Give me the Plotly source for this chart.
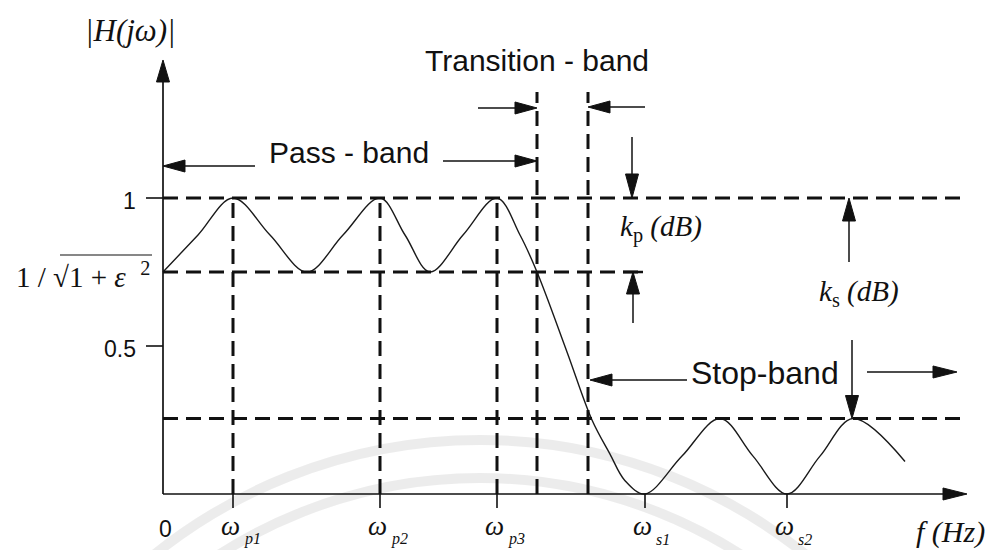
import plotly.graph_objects as go

# ---------------------------------------------------------------- data
# Characteristic frequencies on the f axis (arbitrary frequency units)
PASS_EDGES = [0.70, 2.17, 3.34]
PASS_EDGE_SUBS = ["p1", "p2", "p3"]
STOP_EDGES = [4.82, 6.24]
STOP_EDGE_SUBS = ["s1", "s2"]
TRANSITION_EDGES = [3.74, 4.25]

# Magnitude levels
PASS_MAX = 1.0
RIPPLE_MIN = 0.75          # 1 / sqrt(1 + eps^2)
STOP_MAX = 0.255
Y_TICKS = [1.0, 0.5]
Y_TICK_TEXT = ["1", "0.5"]

# |H(jw)| of the equiripple (elliptic) low-pass response:
# ripple extremes, mid-swing points and the roll-off
RESP_F = [0.00, 0.35, 0.70, 1.07, 1.44, 1.80, 2.17, 2.42, 2.67, 3.00, 3.34,
          3.57, 3.74, 4.04, 4.29, 4.47, 4.62, 4.82, 5.19, 5.57, 5.90, 6.24,
          6.57, 6.90, 7.42]
RESP_H = [0.75, 0.875, 1.00, 0.875, 0.75, 0.875, 1.00, 0.875, 0.75, 0.875, 1.00,
          0.875, 0.75, 0.48, 0.25, 0.135, 0.045, 0.00, 0.128, 0.255, 0.128, 0.00,
          0.128, 0.255, 0.11]

# ---------------------------------------------------------------- geometry
W, H = 993, 550
X0_PX, PX_PER_F = 163, 100.0     # screen position of f = 0 and scale
Y0_PX, PX_PER_H = 494, 296.0     # screen position of |H| = 0 and scale

F_RANGE = [(0 - X0_PX) / PX_PER_F, (W - X0_PX) / PX_PER_F]
H_RANGE = [(Y0_PX - H) / PX_PER_H, Y0_PX / PX_PER_H]


def fx(px):
    return (px - X0_PX) / PX_PER_F


def hy(py):
    return (Y0_PX - py) / PX_PER_H


def to_px(f):
    return X0_PX + f * PX_PER_F


def to_py(h):
    return Y0_PX - h * PX_PER_H


def pxp(x):
    return x / W


def pyp(y):
    return 1 - y / H


INK = "#111111"
SANS = "Liberation Sans, Arial, sans-serif"
SERIF = "Liberation Serif, Times New Roman, serif"
DASH = "15px,8px"

shapes = []
annotations = []


def seg(x0, y0, x1, y1, width=1.6, color=INK, dash=None):
    """Solid or dashed segment in screen pixels."""
    line = dict(color=color, width=width)
    if dash:
        line["dash"] = dash
    shapes.append(dict(type="line", xref="paper", yref="paper",
                       x0=pxp(x0), y0=pyp(y0), x1=pxp(x1), y1=pyp(y1),
                       line=line, layer="above"))


def arrow(x0, y0, x1, y1, head=21, half=6.0, width=1.5):
    """Shaft from (x0,y0) with a filled head whose tip is at (x1,y1)."""
    dx, dy = x1 - x0, y1 - y0
    n = (dx * dx + dy * dy) ** 0.5
    ux, uy = dx / n, dy / n
    bx, by = x1 - ux * head, y1 - uy * head
    seg(x0, y0, bx + ux * 2, by + uy * 2, width=width)
    nx, ny = -uy * half, ux * half
    path = "M {:.5f},{:.5f} L {:.5f},{:.5f} L {:.5f},{:.5f} Z".format(
        pxp(x1), pyp(y1), pxp(bx + nx), pyp(by + ny), pxp(bx - nx), pyp(by - ny))
    shapes.append(dict(type="path", xref="paper", yref="paper", path=path,
                       fillcolor=INK, line=dict(color=INK, width=1),
                       layer="above"))


def text(x, y, s, size, family=SANS, xanchor="center", yanchor="middle",
         color=INK, style="normal"):
    annotations.append(go.layout.Annotation(
        x=pxp(x), y=pyp(y), xref="paper", yref="paper",
        text=s, showarrow=False, xanchor=xanchor, yanchor=yanchor,
        font=dict(family=family, size=size, color=color, style=style)))


def dline(f0, h0, f1, h1):
    """Heavy dashed guide line in data coordinates."""
    shapes.append(dict(type="line", xref="x", yref="y", x0=f0, y0=h0,
                       x1=f1, y1=h1, layer="above",
                       line=dict(color=INK, width=3, dash=DASH)))


fig = go.Figure()

# faint circular watermark behind the drawing
for r in (520, 482):
    cx, cy = 480, 960
    shapes.append(dict(type="circle", xref="paper", yref="paper",
                       x0=pxp(cx - r), x1=pxp(cx + r),
                       y0=pyp(cy + r), y1=pyp(cy - r),
                       line=dict(color="rgba(0,0,0,0.075)", width=10),
                       layer="below"))

# response curve
fig.add_trace(go.Scatter(x=RESP_F, y=RESP_H, mode="lines",
                         line=dict(color="#1a1a1a", width=1.4,
                                   shape="spline", smoothing=1.0),
                         hoverinfo="skip"))

# horizontal guide levels
dline(0, PASS_MAX, fx(962), PASS_MAX)
dline(0, RIPPLE_MIN, fx(645), RIPPLE_MIN)
dline(0, STOP_MAX, fx(966), STOP_MAX)

# vertical guides at pass-band edges and transition-band limits
for f in PASS_EDGES:
    dline(f, 0, f, PASS_MAX)
for f in TRANSITION_EDGES:
    dline(f, 0, f, hy(92))

# axes with arrow heads
arrow(X0_PX, to_py(0), X0_PX, 60, head=22, half=6.5, width=1.7)
arrow(X0_PX, to_py(0), 967, to_py(0), head=24, half=6.0, width=1.7)

# y ticks and labels
for v, t in zip(Y_TICKS, Y_TICK_TEXT):
    seg(X0_PX - 17, to_py(v), X0_PX, to_py(v), width=1.6)
    text(X0_PX - 25, to_py(v) + 3, t, 23, xanchor="right")
text(152, to_py(RIPPLE_MIN) + 3,
     "1 / √1 + <i>ε</i>  <sup>2</sup>", 29, family=SERIF, xanchor="right")
seg(60, to_py(RIPPLE_MIN) - 17, 152, to_py(RIPPLE_MIN) - 17, width=1.2)
text(165, 529, "0", 23)

# x ticks and labels (ω with a lowered subscript)
for f, sub in zip(PASS_EDGES + STOP_EDGES, PASS_EDGE_SUBS + STOP_EDGE_SUBS):
    seg(to_px(f), to_py(0), to_px(f), to_py(0) + 14, width=1.6)
    text(to_px(f) - 3, 526, "ω", 27, family=SERIF, style="italic")
    text(to_px(f) + 9, 539, sub, 16, family=SERIF, xanchor="left",
         style="italic")
text(950, 532, "f (Hz)", 30, family=SERIF, style="italic")
text(130, 30, "|H(jω)|", 31, family=SERIF, style="italic")

# band annotations
text(537, 60, "Transition - band", 30)
text(349, 152, "Pass - band", 30)
text(765, 373, "Stop-band", 32)

arrow(255, 166, X0_PX, 166, head=22, half=6)
arrow(443, 161, to_px(TRANSITION_EDGES[0]), 161, head=22, half=6)
arrow(478, 108, to_px(TRANSITION_EDGES[0]), 108, head=22, half=6)
arrow(645, 107, to_px(TRANSITION_EDGES[1]), 107, head=22, half=6)
arrow(687, 380, to_px(TRANSITION_EDGES[1]) + 2, 380, head=22, half=6)
arrow(867, 372, 957, 372, head=24, half=6)

# attenuation markers k_p and k_s
arrow(632, 137, 632, to_py(PASS_MAX), head=24, half=6.5)
arrow(633, 323, 633, to_py(RIPPLE_MIN), head=22, half=6.5)
seg(623, to_py(RIPPLE_MIN), 643, to_py(RIPPLE_MIN), width=2.5)
arrow(849, 262, 849, to_py(PASS_MAX), head=23, half=6.5)
arrow(852, 340, 852, to_py(STOP_MAX), head=23, half=6.5)
text(661, 228, "<i>k</i><sub>p</sub> <i>(dB)</i>", 29, family=SERIF)
text(859, 293, "<i>k</i><sub>s</sub> <i>(dB)</i>", 29, family=SERIF)

fig.update_layout(
    width=W, height=H,
    margin=dict(l=0, r=0, t=0, b=0),
    paper_bgcolor="white", plot_bgcolor="white",
    font=dict(family=SANS, size=22, color=INK),
    showlegend=False,
    xaxis=dict(range=F_RANGE, visible=False, fixedrange=True),
    yaxis=dict(range=H_RANGE, visible=False, fixedrange=True),
    shapes=shapes, annotations=annotations,
)

fig.write_html("out.html")
